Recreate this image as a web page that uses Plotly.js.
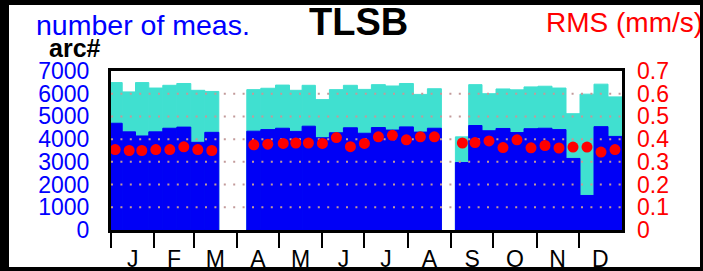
<!DOCTYPE html>
<html>
<head>
<meta charset="utf-8">
<script src="https://cdn.plot.ly/plotly-3.0.1.min.js"></script>
<style>
  html, body { margin: 0; padding: 0; background: #fff; }
  #wrap { position: relative; width: 703px; height: 271px; overflow: hidden; }
  #chart { position: absolute; left: 0; top: 0; width: 703px; height: 271px; }
  #frame { position: absolute; left: 0; top: 0; width: 703px; height: 271px; box-sizing: border-box;
           border-style: solid; border-color: #000; border-width: 5px 3px 4px 9px; pointer-events: none; }
</style>
</head>
<body>
<div id="wrap"><div id="chart"></div><div id="frame"></div></div>
<script>
// ---- data (day of year of each bin) ----
const binDay = [3, 13, 22, 32, 42, 52, 62, 72, 102, 112, 123, 132, 141, 151, 161, 171, 181,
                191, 201, 211, 221, 231, 251, 260, 270, 280, 290, 300, 310, 320, 330, 340, 350, 360];
const measCount = [6490, 6080, 6490, 6250, 6370, 6450, 6150, 6100, 6180, 6240, 6380, 6150, 6370,
                   5740, 6180, 6370, 6190, 6400, 6340, 6450, 5970, 6220, 4100, 6400, 6000, 6210,
                   6170, 6300, 6330, 6250, 5120, 5980, 6420, 5860];
const arcCount = [4700, 4320, 4140, 4320, 4480, 4530, 3860, 4300, 4350, 4420, 4480, 4340, 4570,
                  4060, 4280, 4500, 4260, 4510, 4400, 4540, 4310, 4480, 2970, 4600, 4370, 4470,
                  4290, 4460, 4480, 4420, 3150, 1520, 4550, 4120];
const rmsVal = [0.354, 0.350, 0.350, 0.354, 0.354, 0.366, 0.354, 0.350, 0.375, 0.378, 0.381, 0.383,
                0.383, 0.381, 0.407, 0.367, 0.381, 0.410, 0.417, 0.397, 0.410, 0.410, 0.383, 0.385,
                0.392, 0.363, 0.397, 0.362, 0.372, 0.361, 0.365, 0.365, 0.343, 0.354];
const monthStarts = [0, 31, 59, 90, 120, 151, 181, 212, 243, 273, 304, 334];
const monthLabels = ["J", "F", "M", "A", "M", "J", "J", "A", "S", "O", "N", "D"];
const leftTicks = [0, 1000, 2000, 3000, 4000, 5000, 6000, 7000];
const rightTicks = [0, 0.1, 0.2, 0.3, 0.4, 0.5, 0.6, 0.7];
const yearLength = 365;

// ---- bar extents: edges halfway to neighbouring bins ----
const n = binDay.length;
const barX = [], barW = [];
for (let i = 0; i < n; i++) {
  const d = binDay[i];
  const l = (i > 0 && d - binDay[i - 1] <= 15) ? (binDay[i - 1] + d) / 2 : d - 5;
  const r = (i < n - 1 && binDay[i + 1] - d <= 15) ? (d + binDay[i + 1]) / 2 : Math.min(d + 5, yearLength);
  barX.push((l + r) / 2);
  barW.push(r - l);
}
const monthMids = monthStarts.map((s, i) => (s + (i < 11 ? monthStarts[i + 1] : yearLength)) / 2);

// gridlines built from the tick values
const gx = [], gy = [];
leftTicks.filter(v => v > 0 && v < 7000).forEach(v => { gx.push(0, yearLength, null); gy.push(v, v, null); });

// pixel helpers for annotation placement
const L = 111, R = 622, T = 71, B = 230;
const px = x => (x - L) / (R - L);
const py = y => (B - y) / (B - T);

const FONT = "Liberation Sans, Arial, sans-serif";
const CYAN = "#40e0d0", BLUE = "#0000f6";

const traces = [
  { type: "bar", x: barX, y: measCount, width: barW, marker: { color: CYAN, line: { width: 1, color: CYAN } },
    hoverinfo: "skip", xaxis: "x", yaxis: "y" },
  { type: "bar", x: barX, y: arcCount, width: barW, marker: { color: BLUE, line: { width: 1, color: BLUE } },
    hoverinfo: "skip", xaxis: "x", yaxis: "y" },
  { type: "scatter", mode: "lines", x: gx, y: gy, line: { color: "#c29a9a", width: 2, dash: "2px,7.4px" },
    hoverinfo: "skip", xaxis: "x", yaxis: "y", connectgaps: false },
  { type: "scatter", mode: "markers", x: binDay, y: rmsVal, marker: { color: "#ff0000", size: 11, line: { width: 0 } },
    xaxis: "x", yaxis: "y2" }
];

const layout = {
  width: 703, height: 271,
  margin: { l: L, r: 703 - R, t: T, b: 271 - B, pad: 0 },
  paper_bgcolor: "#fff", plot_bgcolor: "#fff",
  showlegend: false,
  barmode: "overlay",
  font: { family: FONT, color: "#000" },
  xaxis: {
    range: [0, yearLength], showgrid: false, zeroline: false,
    showline: true, linecolor: "#000", linewidth: 3, mirror: true,
    tickmode: "array", tickvals: monthMids, ticktext: monthLabels,
    ticks: "", ticklabelstandoff: 6,
    tickfont: { family: FONT, size: 23, color: "#000" },
    minor: { tickmode: "array", tickvals: monthStarts, ticks: "outside", ticklen: 15, tickwidth: 2,
             tickcolor: "#000", showgrid: false }
  },
  yaxis: {
    range: [0, 7000], showgrid: false, zeroline: false,
    showline: true, linecolor: "#000", linewidth: 3, mirror: true,
    tickmode: "array", tickvals: leftTicks, ticks: "", ticklabelstandoff: 14,
    tickfont: { family: FONT, size: 23, color: "#0000ff" }
  },
  yaxis2: {
    overlaying: "y", side: "right", range: [0, 0.7], showgrid: false, zeroline: false,
    showline: false, tickmode: "array", tickvals: rightTicks, ticks: "", ticklabelstandoff: 14,
    tickfont: { family: FONT, size: 23, color: "#ff0000" }
  },
  annotations: [
    { text: "number of meas.", xref: "paper", yref: "paper", x: px(34), y: py(25),
      xanchor: "left", yanchor: "middle", showarrow: false, font: { family: FONT, size: 28.5, color: "#0000ff" } },
    { text: "<b>TLSB</b>", xref: "paper", yref: "paper", x: px(358.5), y: py(22.5),
      xanchor: "center", yanchor: "middle", showarrow: false, font: { family: FONT, size: 38, color: "#000" } },
    { text: "RMS (mm/s)", xref: "paper", yref: "paper", x: px(544), y: py(22),
      xanchor: "left", yanchor: "middle", showarrow: false, font: { family: FONT, size: 28, color: "#ff0000" } },
    { text: "<b>arc#</b>", xref: "paper", yref: "paper", x: px(75), y: py(48.5),
      xanchor: "center", yanchor: "middle", showarrow: false, font: { family: FONT, size: 25, color: "#000" } }
  ]
};

Plotly.newPlot("chart", traces, layout, { staticPlot: true, displayModeBar: false });
</script>
</body>
</html>
